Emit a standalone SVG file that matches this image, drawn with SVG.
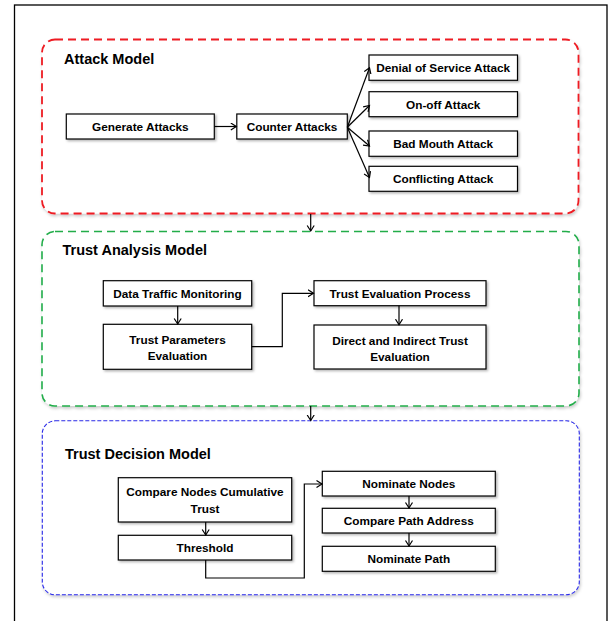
<svg xmlns="http://www.w3.org/2000/svg" width="611" height="621" viewBox="0 0 611 621">
<defs>
  <style>
    .box{fill:#fff;stroke:#000;stroke-width:1.2;filter:url(#sh)}
    .t{font-family:"Liberation Sans",Arial,sans-serif;font-weight:bold;font-size:11.8px;fill:#000;text-anchor:middle}
    .title{font-family:"Liberation Sans",Arial,sans-serif;font-weight:bold;font-size:14.5px;fill:#000}
    .c{fill:none;stroke:#000;stroke-width:1.2;marker-end:url(#ar)}
    .grp{fill:#fff;filter:url(#sh2)}
  </style>
  <filter id="sh" x="-10%" y="-20%" width="130%" height="160%">
    <feDropShadow dx="1.5" dy="1.5" stdDeviation="0.8" flood-color="#000" flood-opacity="0.3"/>
  </filter>
  <filter id="sh2" x="-5%" y="-5%" width="110%" height="115%">
    <feDropShadow dx="1" dy="2" stdDeviation="1.5" flood-color="#000" flood-opacity="0.2"/>
  </filter>
  <marker id="ar" markerUnits="userSpaceOnUse" markerWidth="10" markerHeight="10" refX="6" refY="4" orient="auto">
    <path d="M0.5,0.5 L6,4 L0.5,7.5" fill="none" stroke="#000" stroke-width="1.2"/>
  </marker>
</defs>
<rect x="0" y="0" width="611" height="621" fill="#fff"/>
<rect x="14.5" y="5" width="592.5" height="630" fill="none" stroke="#000" stroke-width="1.3"/>

<g id="attack-model">
  <rect class="grp" x="42" y="39.5" width="536.5" height="174" rx="13" stroke="#ee1c24" stroke-width="1.8" stroke-dasharray="8 5"/>
  <text class="title" x="64" y="63.5">Attack Model</text>
</g>
<g id="trust-analysis-model">
  <rect class="grp" x="42" y="231.5" width="537" height="174.5" rx="13" stroke="#22ad4a" stroke-width="1.6" stroke-dasharray="8 5"/>
  <text class="title" x="62.5" y="254.5">Trust Analysis Model</text>
</g>
<g id="trust-decision-model">
  <rect class="grp" x="42.3" y="420.8" width="537" height="174" rx="13" stroke="#2a2ae8" stroke-width="1.1" stroke-dasharray="4 2"/>
  <text class="title" x="65" y="458.5">Trust Decision Model</text>
</g>

<g id="generate-attacks"><rect class="box" x="66.3" y="114" width="148" height="25"/><text class="t" x="140.3" y="130.8">Generate Attacks</text></g>
<g id="counter-attacks"><rect class="box" x="236.8" y="114" width="110.5" height="25"/><text class="t" x="292" y="130.8">Counter Attacks</text></g>
<g id="denial-of-service"><rect class="box" x="369" y="55" width="148.5" height="25.3"/><text class="t" x="443.2" y="71.8">Denial of Service Attack</text></g>
<g id="on-off"><rect class="box" x="369" y="91.7" width="148.5" height="25"/><text class="t" x="443.2" y="108.5">On-off Attack</text></g>
<g id="bad-mouth"><rect class="box" x="369" y="131" width="148.5" height="25.3"/><text class="t" x="443.2" y="148">Bad Mouth Attack</text></g>
<g id="conflicting"><rect class="box" x="369" y="166.3" width="148.5" height="25"/><text class="t" x="443.2" y="183">Conflicting Attack</text></g>

<g id="data-traffic"><rect class="box" x="103.3" y="280.7" width="148.4" height="25.3"/><text class="t" x="177.5" y="297.6">Data Traffic Monitoring</text></g>
<g id="trust-parameters"><rect class="box" x="103.3" y="324.3" width="148.4" height="45"/><text class="t" x="177.5" y="343.5">Trust Parameters</text><text class="t" x="177.5" y="360.3">Evaluation</text></g>
<g id="trust-evaluation-process"><rect class="box" x="314" y="280.7" width="172" height="25"/><text class="t" x="400" y="297.5">Trust Evaluation Process</text></g>
<g id="direct-indirect"><rect class="box" x="314" y="325" width="172" height="44"/><text class="t" x="400" y="345.3">Direct and Indirect Trust</text><text class="t" x="400" y="361">Evaluation</text></g>

<g id="compare-nodes"><rect class="box" x="118.3" y="477.7" width="173.4" height="44.3"/><text class="t" x="205" y="496">Compare Nodes Cumulative</text><text class="t" x="205" y="513.3">Trust</text></g>
<g id="threshold"><rect class="box" x="118.3" y="535.3" width="173.4" height="24.7"/><text class="t" x="205" y="552">Threshold</text></g>
<g id="nominate-nodes"><rect class="box" x="322.3" y="471.3" width="173" height="24.7"/><text class="t" x="408.8" y="488">Nominate Nodes</text></g>
<g id="compare-path"><rect class="box" x="322.3" y="508.3" width="173" height="24.7"/><text class="t" x="408.8" y="525">Compare Path Address</text></g>
<g id="nominate-path"><rect class="box" x="322.3" y="546.3" width="173" height="25"/><text class="t" x="408.8" y="563">Nominate Path</text></g>

<g id="connectors">
  <path class="c" d="M214.3,126.5 H236.3"/>
  <path class="c" d="M347.3,127.3 L369.5,67.7"/>
  <path class="c" d="M347.3,127.3 L369.5,105.5"/>
  <path class="c" d="M347.3,127.3 L369.5,146"/>
  <path class="c" d="M347.3,127.3 L369.5,177.5"/>
  <path class="c" d="M310.7,214 V231"/>
  <path class="c" d="M177.7,306 V324"/>
  <path class="c" d="M251.7,346.7 H282.3 V293.3 H313.5"/>
  <path class="c" d="M399,305.7 V324.7"/>
  <path class="c" d="M310.7,406 V420.5"/>
  <path class="c" d="M205.7,522 V535"/>
  <path class="c" d="M205.7,560 V578 H304.3 V484 H322"/>
  <path class="c" d="M409,496 V508"/>
  <path class="c" d="M409,533 V546"/>
</g>
</svg>
